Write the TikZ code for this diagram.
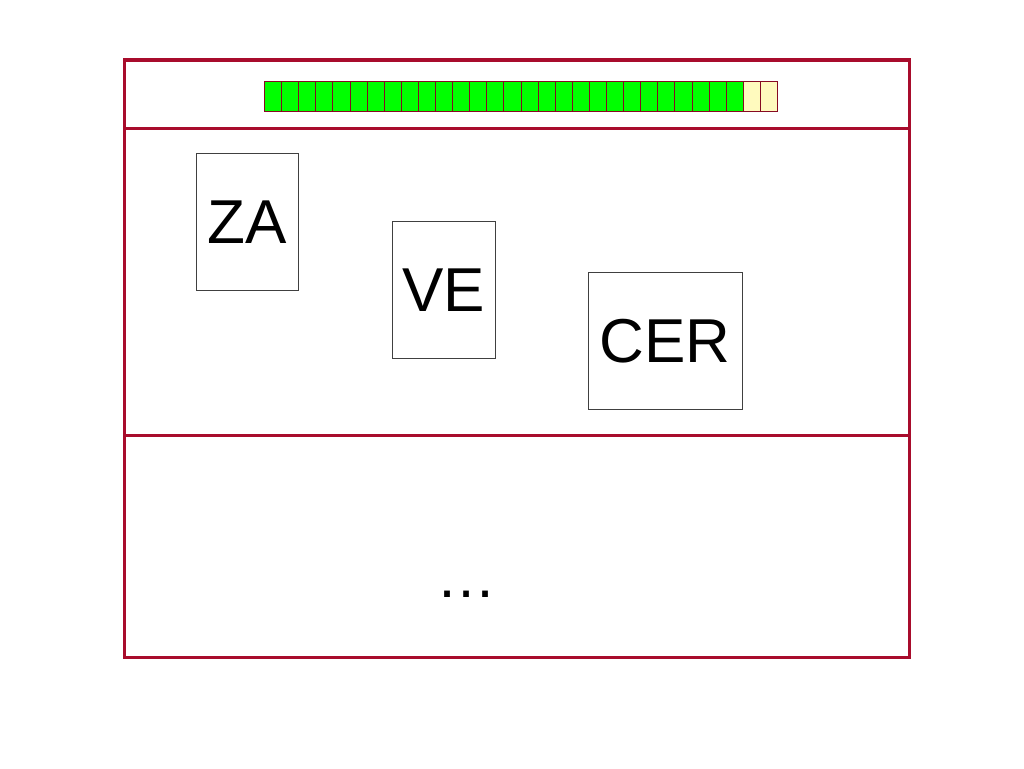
\documentclass[tikz,border=0pt]{standalone}
\usepackage{fontspec}
\setmainfont{Liberation Sans}
\definecolor{framered}{RGB}{168,12,44}
\definecolor{cellgreen}{RGB}{0,255,0}
\definecolor{cellyellow}{RGB}{255,250,190}
\begin{document}
\begin{tikzpicture}[x=1pt, y=-1pt,
		frame/.style={draw=framered, line width=3pt},
		cell/.style={draw=framered!80!black, line width=0.7pt, minimum width=17.1pt, minimum height=30pt, inner sep=0pt, anchor=north west},
		tag/.style={draw=black!75, line width=1pt, minimum height=137pt, inner sep=0pt, text depth=0pt, text height=44pt, font=\fontsize{62}{62}\selectfont}]
		\useasboundingbox (0,0) rectangle (1024,768);
		\draw[frame] (124,60) rectangle (909,657);
		\draw[frame] (124,128) -- (909,128);
		\draw[frame] (124,435) -- (909,435);
		\foreach \i in {0,...,27}
			\node[cell, fill=cellgreen] (cell\i) at (264+17.1*\i,81) {};
		\foreach \i in {28,29}
			\node[cell, fill=cellyellow] (cell\i) at (264+17.1*\i,81) {};
		\node[tag, minimum width=102pt] (za) at (247,221.5) {ZA};
		\node[tag, minimum width=103pt] (ve) at (443.5,289.5) {VE};
		\node[tag, minimum width=154pt] (cer) at (665,340.5) {CER};
		\node[font=\fontsize{60}{60}\selectfont, inner sep=0pt, anchor=base] (more) at (466,597) {\dots};
	\end{tikzpicture}
\end{document}
